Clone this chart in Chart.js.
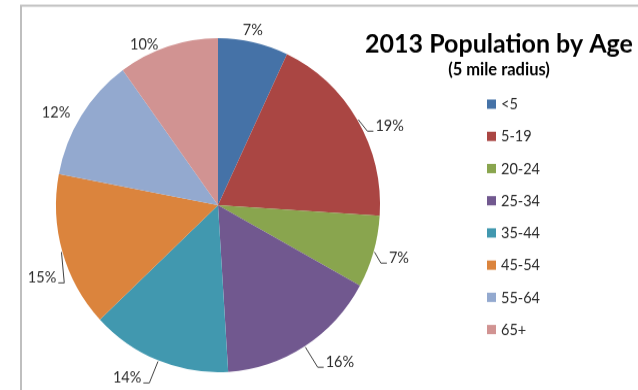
<!DOCTYPE html>
<html>
<head>
<meta charset="utf-8">
<title>2013 Population by Age</title>
<script src="https://cdn.jsdelivr.net/npm/chart.js@4.4.0/dist/chart.umd.min.js"></script>
<style>
  html, body { margin: 0; padding: 0; background: #fff; overflow: hidden; }
  #page { position: relative; width: 638px; height: 390px; overflow: hidden; }
  /* the chart is a little taller than wide */
  #wrap { position: absolute; left: 0; top: 0; width: 638px; height: 378px; transform: scaleY(1.031); transform-origin: 0 0; }
</style>
</head>
<body>
<div id="page"><div id="wrap"><canvas id="popChart" width="638" height="378"></canvas></div></div>
<script>
// population share by age group, 5 mile radius
const ageGroups = ['<5', '5-19', '20-24', '25-34', '35-44', '45-54', '55-64', '65+'];
const popShare = [7, 19, 7, 16, 14, 15, 12, 10];
const chartTitle = '2013 Population by Age';
const chartSubtitle = '(5 mile radius)';

const sliceColors = ['#4572A7', '#AA4643', '#89A54E', '#71588F', '#4198AF', '#DB843D', '#93A9CF', '#D19392'];

const FONT = 'Lato, "Open Sans", sans-serif';

// frame round the whole chart
const framePlugin = {
  id: 'frame',
  beforeDraw(chart) {
    const ctx = chart.ctx;
    ctx.save();
    ctx.strokeStyle = '#BFBFBF';
    ctx.lineWidth = 2;
    ctx.strokeRect(21, 5.5, 700, 500);
    ctx.restore();
  }
};

// title + legend on the right
const sideLegend = {
  id: 'sideLegend',
  afterDraw(chart, args, opts) {
    const ctx = chart.ctx;
    const labels = chart.data.labels;
    const colors = chart.data.datasets[0].backgroundColor;
    ctx.save();
    ctx.fillStyle = '#000';
    ctx.textAlign = 'center';
    ctx.textBaseline = 'middle';
    ctx.font = 'bold 25px ' + FONT;
    ctx.fillText(chartTitle, opts.centerX, opts.titleY);
    ctx.font = 'bold 16.5px ' + FONT;
    ctx.fillText(chartSubtitle, opts.centerX, opts.subtitleY);

    ctx.textAlign = 'left';
    ctx.font = '14.5px ' + FONT;
    labels.forEach((lab, i) => {
      const y = opts.firstRowY + i * opts.rowStep;
      ctx.fillStyle = colors[i];
      ctx.fillRect(opts.boxX, y - 4.5, 9, 9);
      ctx.fillStyle = '#2b2b2b';
      ctx.fillText(lab, opts.boxX + 14, y + 0.5);
    });
    ctx.restore();
  }
};

// percentage labels outside the slices, some with leader lines
const sliceLabels = {
  id: 'sliceLabels',
  afterDatasetsDraw(chart, args, opts) {
    const ctx = chart.ctx;
    const meta = chart.getDatasetMeta(0);
    const values = chart.data.datasets[0].data;
    ctx.save();
    ctx.font = '14.5px ' + FONT;
    ctx.fillStyle = '#2b2b2b';
    ctx.strokeStyle = '#404040';
    ctx.lineWidth = 1;
    ctx.textAlign = 'center';
    ctx.textBaseline = 'middle';
    meta.data.forEach((arc, i) => {
      const p = arc.getProps(['x', 'y', 'startAngle', 'endAngle', 'outerRadius'], true);
      const lay = opts.layout[i];
      const mid = (p.startAngle + p.endAngle) / 2;
      const a = mid + lay.shift * Math.PI / 180;
      const d = p.outerRadius + lay.gap;
      const tx = p.x + d * Math.cos(a);
      const ty = p.y + d * Math.sin(a);
      const text = values[i] + '%';
      ctx.fillText(text, tx, ty);
      if (lay.leader) {
        const w = ctx.measureText(text).width;
        const right = Math.cos(a) > 0;
        const edge = right ? tx - w / 2 : tx + w / 2;
        const dir = right ? -1 : 1;
        ctx.beginPath();
        ctx.moveTo(p.x + (p.outerRadius + 1) * Math.cos(mid), p.y + (p.outerRadius + 1) * Math.sin(mid));
        ctx.lineTo(edge + dir * 8, ty + 5);
        ctx.lineTo(edge + dir * 2, ty + 5);
        ctx.stroke();
      }
    });
    ctx.restore();
  }
};

new Chart(document.getElementById('popChart'), {
  type: 'pie',
  data: {
    labels: ageGroups,
    datasets: [{
      data: popShare,
      backgroundColor: sliceColors,
      borderWidth: 0,
      hoverOffset: 0
    }]
  },
  options: {
    responsive: false,
    animation: false,
    devicePixelRatio: 1,
    layout: { padding: { left: 56, right: 258, top: 37, bottom: 17 } },
    plugins: {
      legend: { display: false },
      tooltip: { enabled: false },
      sideLegend: { centerX: 499, titleY: 42.5, subtitleY: 68, boxX: 487, firstRowY: 101, rowStep: 31.23 },
      sliceLabels: {
        layout: [
          { shift: -1.0, gap: 11.5, leader: false },
          { shift: 6.5, gap: 26, leader: true },
          { shift: -0.4, gap: 26, leader: true },
          { shift: -6.3, gap: 33, leader: true },
          { shift: 6.9, gap: 28.5, leader: true },
          { shift: -5.6, gap: 27.5, leader: true },
          { shift: -3.5, gap: 23, leader: false },
          { shift: -7.4, gap: 10, leader: false }
        ]
      }
    }
  },
  plugins: [framePlugin, sliceLabels, sideLegend]
});
</script>
</body>
</html>
